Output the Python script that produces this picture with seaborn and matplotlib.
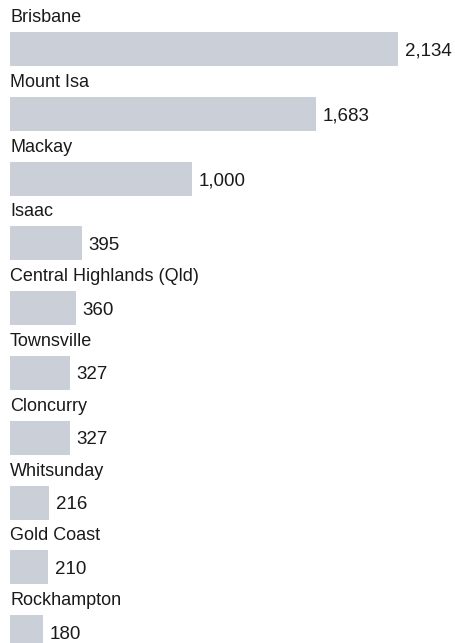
import matplotlib
matplotlib.use("Agg")
import matplotlib.pyplot as plt
import seaborn as sns
import pandas as pd

# data
regions = ["Brisbane", "Mount Isa", "Mackay", "Isaac", "Central Highlands (Qld)",
           "Townsville", "Cloncurry", "Whitsunday", "Gold Coast", "Rockhampton"]
counts = [2134, 1683, 1000, 395, 360, 327, 327, 216, 210, 180]

BAR_COLOR = "#cbd0d8"
TEXT_COLOR = "#1a1a1a"

sns.set_theme(style="white")
plt.rcParams['font.family'] = ['Liberation Sans', 'DejaVu Sans']

df = pd.DataFrame({"region": regions, "count": counts})

fig = plt.figure(figsize=(4.55, 6.43), dpi=100)
ax = fig.add_axes([10 / 455, 0, 445 / 455, 1])

sns.barplot(data=df, x="count", y="region", color=BAR_COLOR, saturation=1,
            width=0.525, linewidth=0, ax=ax)

# pixel geometry: first bar centre at 49px, pitch ~64.8px, ~0.182 px per unit
pitch = 64.8
ax.set_ylim((643 - 49) / pitch, -49 / pitch)
ax.set_xlim(0, 445 / 0.182)
ax.axis("off")

for i, (name, v) in enumerate(zip(regions, counts)):
    # category label above the bar
    ax.annotate(name, xy=(0, i), xytext=(0, 27 * 0.72), textcoords="offset points",
                ha="left", va="baseline", fontsize=13, color=TEXT_COLOR)
    # value to the right of the bar
    ax.annotate(f"{v:,}", xy=(v, i), xytext=(6.5 * 0.72, -6.5 * 0.72),
                textcoords="offset points", ha="left", va="baseline",
                fontsize=13.5, color=TEXT_COLOR)

fig.savefig("out.png", dpi=100)
